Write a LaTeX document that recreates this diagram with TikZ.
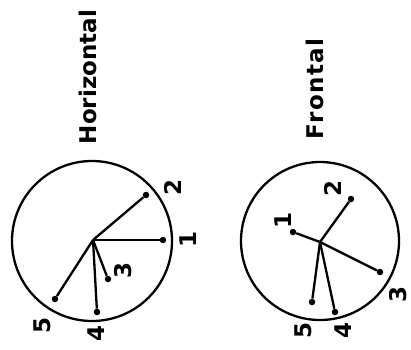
\documentclass[tikz,border=0pt]{standalone}
\usepackage{fontspec}
\setmainfont{DejaVu Sans}
\begin{document}
\begin{tikzpicture}[x=1pt,y=-1pt,
  ring/.style={draw,line width=2.3pt},
  spoke/.style={line width=2.3pt},
  tip/.style={circle,fill,inner sep=0pt,minimum size=6.5pt},
  num/.style={rotate=90,font=\bfseries\fontsize{23}{23}\selectfont,inner sep=0pt},
  title/.style={rotate=90,font=\bfseries\fontsize{23}{23}\selectfont,inner sep=0pt}]
\useasboundingbox (0,0) rectangle (411,349);
% Horizontal
\node[title] (th) at (88,77) {Horizontal};
\draw[ring] (92,241) circle (80);
\coordinate (hc) at (93,240);
\node[tip] (h1) at (163,240) {};
\node[tip] (h2) at (146,195) {};
\node[tip] (h3) at (108,279) {};
\node[tip] (h4) at (97,312) {};
\node[tip] (h5) at (55,299) {};
\foreach \i in {1,...,5} \draw[spoke] (hc) -- (h\i);
\node[num] (lh1) at (188,239) {1};
\node[num] (lh2) at (173,187) {2};
\node[num] (lh3) at (123,270) {3};
\node[num] (lh4) at (96,333) {4};
\node[num] (lh5) at (42,325) {5};
% Frontal
\node[title,font=\bfseries\addfontfeatures{LetterSpace=6}\fontsize{23}{23}\selectfont] (tf) at (315,89) {Frontal};
\draw[ring] (320,241) circle (79);
\coordinate (fc) at (320,242);
\node[tip] (f1) at (293,232) {};
\node[tip] (f2) at (351,199) {};
\node[tip] (f3) at (380,272) {};
\node[tip] (f4) at (335,312) {};
\node[tip] (f5) at (312,302) {};
\foreach \i in {1,...,5} \draw[spoke] (fc) -- (f\i);
\node[num] (lf1) at (283,220) {1};
\node[num] (lf2) at (333,188) {2};
\node[num] (lf3) at (398,294) {3};
\node[num] (lf4) at (343,330) {4};
\node[num] (lf5) at (303,330) {5};
\end{tikzpicture}
\end{document}
